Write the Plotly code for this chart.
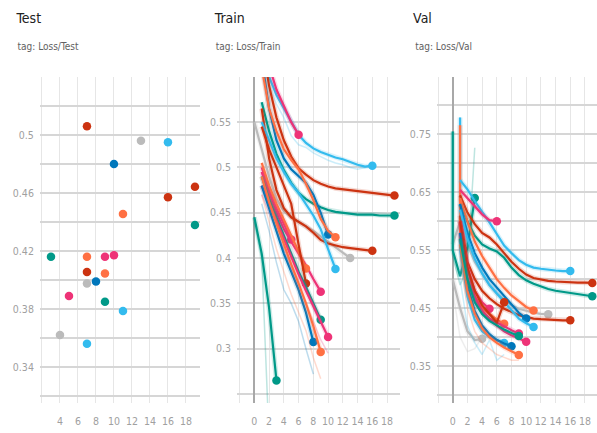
import plotly.graph_objects as go

# Run colours (TensorBoard-style palette)
PALETTE = {
    "orange": "#ff7043",
    "blue": "#0077bb",
    "red": "#cc3311",
    "cyan": "#33bbee",
    "pink": "#ee3377",
    "teal": "#009988",
    "gray": "#bbbbbb",
}

# ---------------- Test: one final loss value per run ----------------
test_colors = ["teal", "gray", "pink", "red", "orange", "red", "gray", "cyan", "blue", "pink",
               "orange", "teal", "pink", "blue", "orange", "cyan", "gray", "cyan", "red", "red", "teal"]
test_steps = [3, 4, 5, 7, 7, 7, 7, 7, 8, 9, 9, 9, 10, 10, 11, 11, 13, 16, 16, 19, 19]
test_loss = [0.416, 0.362, 0.389, 0.506, 0.416, 0.4055, 0.3975, 0.356, 0.399, 0.416,
             0.4045, 0.385, 0.417, 0.480, 0.4455, 0.3786, 0.496, 0.495, 0.457, 0.4643, 0.438]

# ---------------- Train loss curves ----------------
train_cyan16 = [0.660, 0.600, 0.580, 0.565, 0.550, 0.536, 0.527, 0.521, 0.517, 0.514, 0.511, 0.509, 0.506, 0.503, 0.501, 0.502]
train_pink6 = [0.670, 0.612, 0.586, 0.567, 0.550, 0.536]
train_red19 = [0.640, 0.590, 0.555, 0.530, 0.512, 0.499, 0.492, 0.486, 0.482, 0.479, 0.477, 0.476, 0.475, 0.474, 0.473, 0.472, 0.471, 0.470, 0.469]
train_teal19 = [0.572, 0.540, 0.515, 0.497, 0.483, 0.472, 0.465, 0.460, 0.456, 0.453, 0.451, 0.450, 0.449, 0.448, 0.448, 0.448, 0.447, 0.447, 0.447]
train_red16 = [0.565, 0.510, 0.475, 0.455, 0.445, 0.440, 0.435, 0.428, 0.420, 0.416, 0.414, 0.412, 0.411, 0.410, 0.409, 0.408]
train_gray13 = [0.550, 0.520, 0.490, 0.465, 0.452, 0.445, 0.440, 0.435, 0.430, 0.424, 0.418, 0.411, 0.405, 0.400]
train_blue10 = [0.620, 0.565, 0.530, 0.510, 0.498, 0.490, 0.483, 0.470, 0.450, 0.426]
train_orange11 = [0.610, 0.565, 0.540, 0.520, 0.508, 0.498, 0.482, 0.464, 0.443, 0.430, 0.423]
train_cyan11 = [0.550, 0.530, 0.510, 0.495, 0.482, 0.472, 0.460, 0.447, 0.432, 0.410, 0.388]
train_pink5 = [0.500, 0.475, 0.455, 0.437, 0.4205]
train_pink9 = [0.495, 0.470, 0.450, 0.432, 0.418, 0.405, 0.392, 0.377, 0.363]
train_orange7 = [0.505, 0.480, 0.460, 0.443, 0.425, 0.407, 0.3885]
train_red7 = [0.545, 0.520, 0.500, 0.480, 0.460, 0.415, 0.372]
train_teal9 = [0.490, 0.465, 0.445, 0.425, 0.405, 0.385, 0.368, 0.350, 0.332]
train_pink10 = [0.480, 0.460, 0.440, 0.420, 0.400, 0.382, 0.364, 0.347, 0.330, 0.313]
train_blue8 = [0.480, 0.455, 0.430, 0.405, 0.385, 0.365, 0.340, 0.3075]
train_orange9 = [0.490, 0.462, 0.438, 0.415, 0.393, 0.372, 0.350, 0.325, 0.2965]
train_teal3 = [0.445, 0.405, 0.345, 0.265]

# unsmoothed values drawn as faint lines
train_raw_cyan16 = [0.650, 0.590, 0.570, 0.555, 0.535, 0.525, 0.522, 0.516, 0.512, 0.508, 0.505, 0.503, 0.500, 0.498, 0.500, 0.502]
train_raw_teal3 = [0.440, 0.400, 0.200, 0.190]
train_raw_blue8 = [0.460, 0.430, 0.395, 0.365, 0.350, 0.330, 0.300, 0.272]
train_raw_orange9 = [0.470, 0.440, 0.410, 0.385, 0.360, 0.340, 0.320, 0.290, 0.267]
train_raw_pink10 = [0.470, 0.450, 0.430, 0.410, 0.390, 0.370, 0.350, 0.330, 0.310, 0.295]

# ---------------- Val loss curves ----------------
val_cyan16 = [0.671, 0.655, 0.635, 0.617, 0.598, 0.578, 0.558, 0.545, 0.533, 0.525, 0.520, 0.518, 0.516, 0.515, 0.514, 0.514]
val_pink6 = [0.654, 0.640, 0.625, 0.612, 0.602, 0.600]
val_red19 = [0.645, 0.615, 0.595, 0.580, 0.572, 0.560, 0.545, 0.530, 0.518, 0.508, 0.502, 0.499, 0.497, 0.496, 0.495, 0.495, 0.494, 0.494, 0.4935]
val_teal19 = [0.630, 0.600, 0.575, 0.560, 0.553, 0.548, 0.537, 0.520, 0.507, 0.498, 0.492, 0.487, 0.483, 0.480, 0.478, 0.476, 0.474, 0.472, 0.4706]
val_red16 = [0.610, 0.530, 0.500, 0.480, 0.467, 0.457, 0.449, 0.443, 0.438, 0.435, 0.432, 0.431, 0.430, 0.430, 0.429, 0.429]
val_gray13 = [0.560, 0.600, 0.560, 0.530, 0.510, 0.490, 0.475, 0.465, 0.455, 0.449, 0.445, 0.442, 0.440, 0.4395]
val_orange11 = [0.640, 0.600, 0.565, 0.540, 0.520, 0.500, 0.485, 0.472, 0.462, 0.452, 0.446]
val_blue10 = [0.630, 0.580, 0.545, 0.520, 0.500, 0.485, 0.470, 0.455, 0.442, 0.432]
val_cyan11 = [0.620, 0.570, 0.535, 0.510, 0.490, 0.475, 0.460, 0.445, 0.432, 0.424, 0.4175]
val_pink5 = [0.600, 0.520, 0.480, 0.460, 0.449]
val_pink9 = [0.580, 0.500, 0.465, 0.445, 0.432, 0.425, 0.418, 0.412, 0.406]
val_pink10 = [0.600, 0.520, 0.470, 0.445, 0.430, 0.420, 0.410, 0.403, 0.397, 0.392]
val_orange7_steps = [1, 1, 2, 3, 4, 5, 6, 7]
val_orange7 = [0.766, 0.570, 0.500, 0.470, 0.450, 0.440, 0.430, 0.423]
val_red7 = [0.600, 0.520, 0.480, 0.455, 0.440, 0.425, 0.460]
val_blue8 = [0.580, 0.490, 0.445, 0.420, 0.405, 0.395, 0.389, 0.384]
val_orange9 = [0.560, 0.480, 0.440, 0.415, 0.400, 0.390, 0.382, 0.375, 0.369]
val_teal9 = [0.570, 0.500, 0.460, 0.440, 0.428, 0.420, 0.413, 0.407, 0.402]
val_teal3_steps = [0, 0, 1, 2, 3]
val_teal3 = [0.755, 0.550, 0.505, 0.555, 0.640]
val_gray4 = [0.500, 0.450, 0.410, 0.395, 0.397]
val_cyan7_steps = [1, 1, 2, 3, 4, 5, 6, 7]
val_cyan7 = [0.779, 0.550, 0.470, 0.430, 0.410, 0.400, 0.395, 0.390]

val_raw_teal3 = [0.755, 0.540, 0.490, 0.520, 0.727]
val_raw_gray4 = [0.480, 0.400, 0.375, 0.380, 0.400]
val_raw_cyan7 = [0.779, 0.500, 0.420, 0.390, 0.370, 0.395, 0.360, 0.370]
val_raw_orange9 = [0.540, 0.450, 0.410, 0.390, 0.380, 0.370, 0.365, 0.360, 0.360]


def steps_from(start, values):
    return list(range(start, start + len(values)))


# (colour, steps, smoothed values, raw values or None)
train_runs = [
    ("gray", steps_from(0, train_gray13), train_gray13, None),
    ("cyan", steps_from(1, train_cyan16), train_cyan16, train_raw_cyan16),
    ("pink", steps_from(1, train_pink6), train_pink6, None),
    ("red", steps_from(1, train_red19), train_red19, None),
    ("teal", steps_from(1, train_teal19), train_teal19, None),
    ("red", steps_from(1, train_red16), train_red16, None),
    ("blue", steps_from(1, train_blue10), train_blue10, None),
    ("orange", steps_from(1, train_orange11), train_orange11, None),
    ("cyan", steps_from(1, train_cyan11), train_cyan11, None),
    ("pink", steps_from(1, train_pink5), train_pink5, None),
    ("pink", steps_from(1, train_pink9), train_pink9, None),
    ("orange", steps_from(1, train_orange7), train_orange7, None),
    ("red", steps_from(1, train_red7), train_red7, None),
    ("teal", steps_from(1, train_teal9), train_teal9, None),
    ("pink", steps_from(1, train_pink10), train_pink10, train_raw_pink10),
    ("blue", steps_from(1, train_blue8), train_blue8, train_raw_blue8),
    ("orange", steps_from(1, train_orange9), train_orange9, train_raw_orange9),
    ("teal", steps_from(0, train_teal3), train_teal3, train_raw_teal3),
]

val_runs = [
    ("gray", steps_from(0, val_gray13), val_gray13, None),
    ("gray", steps_from(0, val_gray4), val_gray4, val_raw_gray4),
    ("teal", val_teal3_steps, val_teal3, val_raw_teal3),
    ("cyan", val_cyan7_steps, val_cyan7, val_raw_cyan7),
    ("orange", val_orange7_steps, val_orange7, None),
    ("cyan", steps_from(1, val_cyan16), val_cyan16, None),
    ("pink", steps_from(1, val_pink6), val_pink6, None),
    ("red", steps_from(1, val_red19), val_red19, None),
    ("teal", steps_from(1, val_teal19), val_teal19, None),
    ("red", steps_from(1, val_red16), val_red16, None),
    ("orange", steps_from(1, val_orange11), val_orange11, None),
    ("blue", steps_from(1, val_blue10), val_blue10, None),
    ("cyan", steps_from(1, val_cyan11), val_cyan11, None),
    ("pink", steps_from(1, val_pink5), val_pink5, None),
    ("pink", steps_from(1, val_pink9), val_pink9, None),
    ("pink", steps_from(1, val_pink10), val_pink10, None),
    ("red", steps_from(1, val_red7), val_red7, None),
    ("blue", steps_from(1, val_blue8), val_blue8, None),
    ("orange", steps_from(1, val_orange9), val_orange9, val_raw_orange9),
    ("teal", steps_from(1, val_teal9), val_teal9, None),
]

fig = go.Figure()

# Test scatter
fig.add_trace(go.Scatter(
    x=test_steps, y=test_loss, mode="markers", xaxis="x", yaxis="y",
    marker=dict(size=8.5, color=[PALETTE[c] for c in test_colors], line=dict(width=0)),
    hoverinfo="x+y",
))


def add_curves(runs, xa, ya):
    for color, xs, ys, raw in runs:
        c = PALETTE[color]
        if raw is not None:
            fig.add_trace(go.Scatter(x=xs, y=raw, mode="lines", xaxis=xa, yaxis=ya,
                                     line=dict(color=c, width=1.5), opacity=0.25, hoverinfo="skip"))
        fig.add_trace(go.Scatter(x=xs, y=ys, mode="lines", xaxis=xa, yaxis=ya,
                                 line=dict(color=c, width=5), opacity=0.18, hoverinfo="skip"))
        fig.add_trace(go.Scatter(x=xs, y=ys, mode="lines", xaxis=xa, yaxis=ya,
                                 line=dict(color=c, width=2.2), hoverinfo="skip"))
        fig.add_trace(go.Scatter(x=[xs[-1]], y=[ys[-1]], mode="markers", xaxis=xa, yaxis=ya,
                                 marker=dict(size=8.5, color=c), hoverinfo="x+y"))


add_curves(train_runs, "x2", "y2")
add_curves(val_runs, "x3", "y3")

FONT = "DejaVu Sans, sans-serif"
TICK_FONT = dict(family=FONT, size=10.5, color="#a0a0a0")
YDOM = [0.069, 0.822]


def xaxis(domain, rng, vals, labels, zero):
    return dict(domain=domain, range=rng, tickvals=vals, ticktext=labels, tickangle=0,
                showgrid=True, gridcolor="#e6e6e6", gridwidth=1,
                zeroline=zero, zerolinecolor="#a8a8a8", zerolinewidth=1.5,
                showline=False, ticks="outside", ticklen=8, tickcolor="rgba(0,0,0,0)",
                tickfont=TICK_FONT, fixedrange=True)


def yaxis(anchor, rng, vals, labels):
    return dict(domain=YDOM, anchor=anchor, range=rng, tickvals=vals, ticktext=labels,
                showgrid=True, gridcolor="#d6d6d6", gridwidth=2,
                zeroline=False, showline=False, ticks="outside", ticklen=3,
                tickcolor="rgba(0,0,0,0)", tickfont=TICK_FONT, fixedrange=True)


test_x_ticks = [2, 4, 6, 8, 10, 12, 14, 16, 18]
test_x_text = ["", "4", "6", "8", "10", "12", "14", "16", "18"]
step_ticks = [-2, 0, 2, 4, 6, 8, 10, 12, 14, 16, 18]
step_text = ["", "0", "2", "4", "6", "8", "10", "12", "14", "16", "18"]

test_y_ticks = [0.32, 0.34, 0.36, 0.38, 0.40, 0.42, 0.44, 0.46, 0.48, 0.50, 0.52]
test_y_text = ["", "0.34", "", "0.38", "", "0.42", "", "0.46", "", "0.5", ""]
train_y_ticks = [0.25, 0.30, 0.35, 0.40, 0.45, 0.50, 0.55, 0.60]
train_y_text = ["", "0.3", "0.35", "0.4", "0.45", "0.5", "0.55", ""]
val_y_ticks = [0.30, 0.35, 0.40, 0.45, 0.50, 0.55, 0.60, 0.65, 0.70, 0.75, 0.80, 0.85]
val_y_text = ["", "0.35", "", "0.45", "", "0.55", "", "0.65", "", "0.75", "", ""]

fig.update_layout(
    width=597, height=433,
    margin=dict(l=0, r=0, t=0, b=0),
    paper_bgcolor="white", plot_bgcolor="white",
    showlegend=False,
    font=dict(family=FONT),
    xaxis=xaxis([0.067, 0.335], [1.78, 19.56], test_x_ticks, test_x_text, False),
    yaxis=yaxis("x", [0.315, 0.54], test_y_ticks, test_y_text),
    xaxis2=xaxis([0.397, 0.670], [-2.35, 19.75], step_ticks, step_text, True),
    yaxis2=yaxis("x2", [0.24, 0.5997], train_y_ticks, train_y_text),
    xaxis3=xaxis([0.732, 1.0], [-2.14, 19.64], step_ticks, step_text, True),
    yaxis3=yaxis("x3", [0.286, 0.849], val_y_ticks, val_y_text),
)
fig.layout.xaxis.anchor = "y"
fig.layout.xaxis2.anchor = "y2"
fig.layout.xaxis3.anchor = "y3"

panel_titles = [("Test", "tag: Loss/Test", 12), ("Train", "tag: Loss/Train", 210), ("Val", "tag: Loss/Val", 410)]
for title, tag, px in panel_titles:
    fig.add_annotation(text=title, xref="paper", yref="paper", x=px / 597, y=1 - 18 / 433,
                       xanchor="left", yanchor="middle", showarrow=False,
                       font=dict(family=FONT, size=14, color="#212121"))
    fig.add_annotation(text=tag, xref="paper", yref="paper", x=px / 597, y=1 - 46 / 433,
                       xanchor="left", yanchor="middle", showarrow=False,
                       font=dict(family=FONT, size=10, color="#616161"))

# narrow type face for all labels, as in the dashboard style
condense_text = "document.querySelectorAll('svg text').forEach(function(t){t.style.fontStretch='condensed';});"

fig.write_html("out.html", post_script=condense_text)
